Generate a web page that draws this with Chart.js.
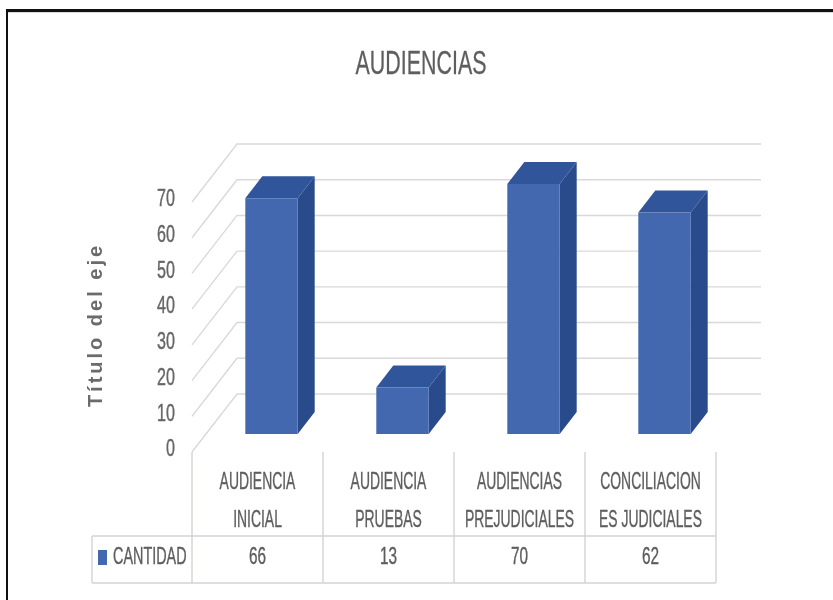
<!DOCTYPE html>
<html lang="es">
<head>
<meta charset="utf-8">
<title>AUDIENCIAS</title>
<script src="https://cdn.jsdelivr.net/npm/chart.js@4/dist/chart.umd.min.js"></script>
<style>
  html, body { margin: 0; padding: 0; background: #ffffff; }
  canvas { display: block; }
</style>
</head>
<body>
<canvas id="chart" width="833" height="600"></canvas>
<script>
// Chart content
const chartTitle = 'AUDIENCIAS';
const axisTitle = 'Título del eje';
const seriesName = 'CANTIDAD';
const categories = [
  ['AUDIENCIA', 'INICIAL'],
  ['AUDIENCIA', 'PRUEBAS'],
  ['AUDIENCIAS', 'PREJUDICIALES'],
  ['CONCILIACION', 'ES JUDICIALES']
];
const cantidad = [66, 13, 70, 62];
const yTickValues = [0, 10, 20, 30, 40, 50, 60, 70];

// Look
const FRONT = '#4368b0';
const TOP = '#30559a';
const SIDE = '#2a4b8b';
const GRID = '#dcd8d8';
const TABLE_LINE = '#d6d2d2';
const TEXT = '#5e5e5e';
const FONT = "'Liberation Sans', Arial, sans-serif";

// Pseudo-3D geometry: offsets from the bar plane to the back wall,
// to the front edge of the floor, and the depth of each column.
const BACK = { x: 31, y: -40 };
const FRONT_EDGE = { x: -14, y: 18 };
const DEPTH = { x: 17, y: -22 };

// Narrow lettering: horizontally condensed text with a light outline.
function condensedText(ctx, text, x, y, opts) {
  ctx.save();
  ctx.translate(x, y);
  ctx.scale(opts.sx || 1, 1);
  ctx.font = (opts.weight || 'normal') + ' ' + opts.size + 'px ' + FONT;
  ctx.fillStyle = opts.color || TEXT;
  ctx.strokeStyle = opts.color || TEXT;
  ctx.lineWidth = opts.stroke !== undefined ? opts.stroke : 0.4;
  ctx.lineJoin = 'round';
  ctx.textAlign = opts.align || 'center';
  ctx.textBaseline = 'middle';
  ctx.fillText(text, 0, 0);
  if (ctx.lineWidth > 0) ctx.strokeText(text, 0, 0);
  ctx.restore();
}

const frame3d = {
  id: 'frame3d',
  beforeDraw(chart) {
    const ctx = chart.ctx;
    ctx.save();
    // outer frame
    ctx.fillStyle = '#111111';
    ctx.fillRect(6, 9, chart.width - 6, 3);
    ctx.fillRect(6, 9, 2, chart.height - 9);
    ctx.fillStyle = '#d8d8d8';
    ctx.fillRect(8, 12, chart.width - 8, 1);
    ctx.restore();
  },
  beforeDatasetsDraw(chart) {
    const ctx = chart.ctx;
    const ys = chart.scales.y;
    const area = chart.chartArea;
    ctx.save();
    ctx.strokeStyle = GRID;
    ctx.lineWidth = 1.4;
    ys.ticks.forEach(t => {
      const y = ys.getPixelForValue(t.value);
      ctx.beginPath();
      // side wall line (front edge to back wall)
      ctx.moveTo(area.left + FRONT_EDGE.x, y + FRONT_EDGE.y);
      ctx.lineTo(area.left + BACK.x, y + BACK.y);
      // back wall line
      ctx.lineTo(area.right + BACK.x, y + BACK.y);
      ctx.stroke();
    });
    // top and side faces of each column
    const meta = chart.getDatasetMeta(0);
    meta.data.forEach(bar => {
      const p = bar.getProps(['x', 'y', 'base', 'width'], true);
      const l = p.x - p.width / 2, r = p.x + p.width / 2;
      const t = p.y, b = p.base;
      ctx.fillStyle = SIDE;
      ctx.beginPath();
      ctx.moveTo(r, t);
      ctx.lineTo(r + DEPTH.x, t + DEPTH.y);
      ctx.lineTo(r + DEPTH.x, b + DEPTH.y);
      ctx.lineTo(r, b);
      ctx.closePath();
      ctx.fill();
      ctx.fillStyle = TOP;
      ctx.beginPath();
      ctx.moveTo(l, t);
      ctx.lineTo(l + DEPTH.x, t + DEPTH.y);
      ctx.lineTo(r + DEPTH.x, t + DEPTH.y);
      ctx.lineTo(r, t);
      ctx.closePath();
      ctx.fill();
    });
    ctx.restore();
  },
  afterDraw(chart) {
    const ctx = chart.ctx;
    const xs = chart.scales.x;
    const ys = chart.scales.y;
    const area = chart.chartArea;

    // title
    condensedText(ctx, chartTitle, 421, 65, { size: 34, sx: 0.63, stroke: 0.3 });

    // axis title, rotated
    ctx.save();
    ctx.translate(96, 325);
    ctx.rotate(-Math.PI / 2);
    ctx.font = 'bold 20px ' + FONT;
    ctx.fillStyle = '#6b6b6b';
    ctx.textAlign = 'center';
    ctx.textBaseline = 'middle';
    if ('letterSpacing' in ctx) ctx.letterSpacing = '3px';
    ctx.fillText(axisTitle, 0, 0);
    ctx.restore();

    // value axis labels on the front edge
    ys.ticks.forEach(t => {
      const y = ys.getPixelForValue(t.value) + FRONT_EDGE.y - 2;
      condensedText(ctx, String(t.value), area.left + FRONT_EDGE.x - 17, y,
        { size: 23, sx: 0.7, align: 'right', color: '#666666' });
    });

    // data table
    const band = xs.getPixelForValue(1) - xs.getPixelForValue(0);
    const n = chart.data.labels.length;
    const x0 = xs.getPixelForValue(0) - band / 2 + FRONT_EDGE.x;
    const yTop = ys.getPixelForValue(0) + FRONT_EDGE.y;
    const rowY = 536, bottomY = 583, legendLeft = 92;
    ctx.save();
    ctx.strokeStyle = TABLE_LINE;
    ctx.lineWidth = 1.4;
    ctx.beginPath();
    for (let i = 0; i <= n; i++) {
      const x = x0 + i * band;
      ctx.moveTo(x, yTop);
      ctx.lineTo(x, bottomY);
    }
    ctx.moveTo(legendLeft, rowY);
    ctx.lineTo(x0 + n * band, rowY);
    ctx.moveTo(legendLeft, bottomY);
    ctx.lineTo(x0 + n * band, bottomY);
    ctx.moveTo(legendLeft, rowY);
    ctx.lineTo(legendLeft, bottomY);
    ctx.stroke();
    ctx.restore();

    chart.data.labels.forEach((lab, i) => {
      const cx = xs.getPixelForValue(i) + FRONT_EDGE.x;
      condensedText(ctx, lab[0], cx, 482, { size: 24, sx: 0.58 });
      condensedText(ctx, lab[1], cx, 520, { size: 24, sx: 0.58 });
      condensedText(ctx, String(chart.data.datasets[0].data[i]), cx, 557, { size: 24, sx: 0.64 });
    });

    // legend key in the table
    ctx.fillStyle = FRONT;
    ctx.fillRect(98, 550, 9, 15);
    condensedText(ctx, chart.data.datasets[0].label, 113, 557, { size: 24, sx: 0.6, align: 'left' });
  }
};

new Chart(document.getElementById('chart'), {
  type: 'bar',
  data: {
    labels: categories,
    datasets: [{
      label: seriesName,
      data: cantidad,
      backgroundColor: FRONT,
      borderWidth: 0,
      categoryPercentage: 1.0,
      barPercentage: 0.4
    }]
  },
  options: {
    responsive: false,
    animation: false,
    devicePixelRatio: 1,
    layout: { padding: { left: 206, right: 103, top: 184, bottom: 166 } },
    plugins: {
      legend: { display: false },
      title: { display: false },
      tooltip: { enabled: false }
    },
    scales: {
      x: { type: 'category', display: false, offset: true },
      y: {
        display: false,
        min: 0,
        max: 70,
        afterBuildTicks(scale) {
          scale.ticks = yTickValues.map(v => ({ value: v }));
        }
      }
    }
  },
  plugins: [frame3d]
});
</script>
</body>
</html>
